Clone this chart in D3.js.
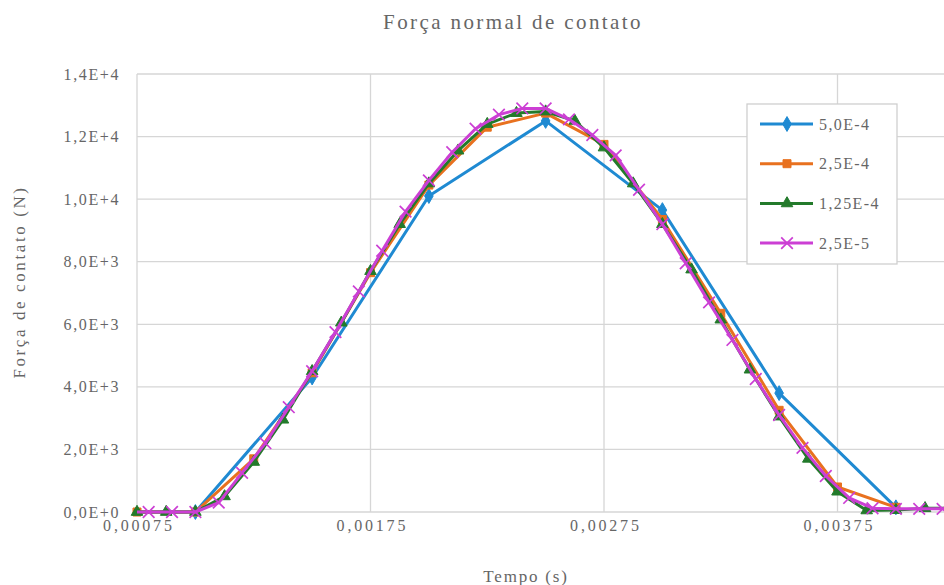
<!DOCTYPE html>
<html>
<head>
<meta charset="utf-8">
<script src="https://cdn.jsdelivr.net/npm/d3@7"></script>
<style>
  body { margin: 0; background: #fff; }
  svg { display: block; }
  text { font-family: "Liberation Serif", "DejaVu Serif", serif; fill: #666; }
</style>
</head>
<body>
<svg id="chart" width="944" height="585"></svg>
<script>
// tempo (s) / força (N), one pair of arrays per time step
const tBlue = [0.0005, 0.001, 0.0015, 0.002, 0.0025, 0.003, 0.0035, 0.004];
const fBlue = [0, 0, 4300, 10100, 12500, 9650, 3800, 150];

const tOrange = [0.00075, 0.001, 0.00125, 0.0015, 0.00175, 0.002, 0.00225, 0.0025,
  0.00275, 0.003, 0.00325, 0.0035, 0.00375, 0.004];
const fOrange = [0, 0, 1700, 4450, 7650, 10450, 12300, 12750,
  11750, 9350, 6350, 3250, 800, 150];

const tGreen = [0.00075, 0.000875, 0.001, 0.001125, 0.00125, 0.001375, 0.0015, 0.001625,
  0.00175, 0.001875, 0.002, 0.002125, 0.00225, 0.002375, 0.0025, 0.002625,
  0.00275, 0.002875, 0.003, 0.003125, 0.00325, 0.003375, 0.0035, 0.003625,
  0.00375, 0.003875, 0.004, 0.004125, 0.00425];
const fGreen = [0, 0, 0, 500, 1600, 2950, 4500, 6050,
  7700, 9200, 10500, 11550, 12400, 12750, 12800, 12500,
  11650, 10500, 9200, 7750, 6150, 4550, 3050, 1700,
  650, 50, 60, 120, 120];

const tMagenta = [0.0007, 0.0008, 0.0009, 0.001, 0.0011, 0.0012, 0.0013, 0.0014, 0.0015,
  0.0016, 0.0017, 0.0018, 0.0019, 0.002, 0.0021, 0.0022, 0.0023, 0.0024,
  0.0025, 0.0026, 0.0027, 0.0028, 0.0029, 0.003, 0.0031, 0.0032, 0.0033,
  0.0034, 0.0035, 0.0036, 0.0037, 0.0038, 0.0039, 0.004, 0.0041, 0.0042, 0.0043];
const fMagenta = [0, 0, 0, 0, 300, 1250, 2200, 3350, 4500,
  5750, 7050, 8350, 9600, 10600, 11500, 12250, 12700, 12900,
  12900, 12550, 12050, 11400, 10300, 9200, 7950, 6700, 5500,
  4250, 3100, 2050, 1150, 450, 120, 100, 100, 100, 100];

const seriesNames = ['5,0E-4', '2,5E-4', '1,25E-4', '2,5E-5'];
const seriesColors = ['#1f8ad2', '#e8711f', '#237a2b', '#cc3fd4'];
const seriesMarkers = ['diamond', 'square', 'triangle', 'cross'];

const xTicks = [0.00075, 0.00175, 0.00275, 0.00375];
const yTicks = [0, 2000, 4000, 6000, 8000, 10000, 12000, 14000];

const series = [
  { t: tBlue, f: fBlue },
  { t: tOrange, f: fOrange },
  { t: tGreen, f: fGreen },
  { t: tMagenta, f: fMagenta }
].map((s, i) => ({
  name: seriesNames[i],
  color: seriesColors[i],
  marker: seriesMarkers[i],
  points: s.t.map((t, j) => [t, s.f[j]])
}));

const svg = d3.select('#chart');
const plotLeft = 137, plotTop = 74, plotBottom = 512, plotRight = 1000;

const x = d3.scaleLinear().domain([0.00075, 0.00375]).range([plotLeft, 837.5]);
const y = d3.scaleLinear().domain([0, 14000]).range([plotBottom, plotTop]);

const fmtY = v => {
  if (v === 0) return '0,0E+0';
  const e = Math.floor(Math.log10(v));
  return (v / Math.pow(10, e)).toFixed(1).replace('.', ',') + 'E+' + e;
};
const fmtX = v => d3.format('.5f')(v).replace('.', ',');

// grid (the plot area runs on past the right edge of the picture)
svg.append('g')
  .selectAll('line')
  .data(yTicks)
  .join('line')
  .attr('x1', plotLeft).attr('x2', plotRight)
  .attr('y1', d => y(d)).attr('y2', d => y(d))
  .attr('stroke', '#d6d6d6').attr('stroke-width', 1.3);

svg.append('g')
  .selectAll('line')
  .data(xTicks)
  .join('line')
  .attr('x1', d => x(d)).attr('x2', d => x(d))
  .attr('y1', plotTop).attr('y2', plotBottom)
  .attr('stroke', '#d6d6d6').attr('stroke-width', 1.3);

// tick labels
const yAxis = svg.append('g')
  .attr('transform', `translate(${plotLeft},0)`)
  .call(d3.axisLeft(y).tickValues(yTicks).tickFormat(fmtY).tickSize(0).tickPadding(17));
yAxis.select('.domain').remove();
yAxis.selectAll('text')
  .style('font-family', '"Liberation Serif", serif')
  .style('font-size', '16px').style('letter-spacing', '1.6px')
  .attr('fill', '#666');

const xAxis = svg.append('g')
  .attr('transform', `translate(0,${plotBottom})`)
  .call(d3.axisBottom(x).tickValues(xTicks).tickFormat(fmtX).tickSize(0).tickPadding(8));
xAxis.select('.domain').remove();
xAxis.selectAll('text')
  .style('font-family', '"Liberation Serif", serif')
  .style('font-size', '16px').style('letter-spacing', '2.8px')
  .attr('dx', '1.4px')
  .attr('fill', '#666');

// titles
svg.append('text')
  .attr('x', 513).attr('y', 29)
  .attr('text-anchor', 'middle')
  .style('font-size', '21px').style('letter-spacing', '2.4px')
  .text('Força normal de contato');

svg.append('text')
  .attr('x', 526).attr('y', 582)
  .attr('text-anchor', 'middle')
  .style('font-size', '17px').style('letter-spacing', '1.8px')
  .text('Tempo (s)');

svg.append('text')
  .attr('transform', 'translate(25,282) rotate(-90)')
  .attr('text-anchor', 'middle')
  .style('font-size', '17px').style('letter-spacing', '2.6px')
  .text('Força de contato (N)');

// lines
svg.append('clipPath').attr('id', 'plot-clip')
  .append('rect').attr('x', plotLeft).attr('y', plotTop - 10)
  .attr('width', plotRight - plotLeft).attr('height', plotBottom - plotTop + 20);

const line = d3.line().x(d => x(d[0])).y(d => y(d[1]));

const symbolFor = {
  diamond: d3.symbol().type(d3.symbolDiamond).size(64),
  square: d3.symbol().type(d3.symbolSquare).size(64),
  triangle: d3.symbol().type(d3.symbolTriangle).size(58),
  cross: d3.symbol().type(d3.symbolTimes).size(90)
};

const drawMarker = (g, s) => {
  g.append('path')
    .attr('d', symbolFor[s.marker]())
    .attr('fill', s.marker === 'cross' ? 'none' : s.color)
    .attr('stroke', s.color)
    .attr('stroke-width', s.marker === 'cross' ? 1.7 : 1);
};

const seriesG = svg.append('g')
  .selectAll('g')
  .data(series)
  .join('g');

seriesG.append('path')
  .attr('clip-path', 'url(#plot-clip)')
  .attr('d', d => line(d.points))
  .attr('fill', 'none')
  .attr('stroke', d => d.color)
  .attr('stroke-width', 3)
  .attr('stroke-linejoin', 'round');

seriesG.each(function(s) {
  d3.select(this).selectAll('g.pt')
    .data(s.points.filter(p => p[0] >= 0.00075))
    .join('g')
    .attr('class', 'pt')
    .attr('transform', p => `translate(${x(p[0])},${y(p[1])})`)
    .each(function() { drawMarker(d3.select(this), s); });
});

// legend
const legend = svg.append('g').attr('transform', 'translate(747,104)');
legend.append('rect')
  .attr('width', 150).attr('height', 160)
  .attr('fill', '#fff').attr('stroke', '#cfcfcf').attr('stroke-width', 1.3);

const item = legend.selectAll('g.item')
  .data(series)
  .join('g')
  .attr('class', 'item')
  .attr('transform', (d, i) => `translate(0,${20 + i * 39.7})`);

item.append('line')
  .attr('x1', 13).attr('x2', 66)
  .attr('stroke', d => d.color).attr('stroke-width', 3);

item.each(function(s) {
  const g = d3.select(this).append('g').attr('transform', 'translate(40,0)');
  drawMarker(g, s);
});

item.append('text')
  .attr('x', 72).attr('dy', '0.35em')
  .style('font-size', '16px').style('letter-spacing', '1.4px')
  .text(d => d.name);
</script>
</body>
</html>
